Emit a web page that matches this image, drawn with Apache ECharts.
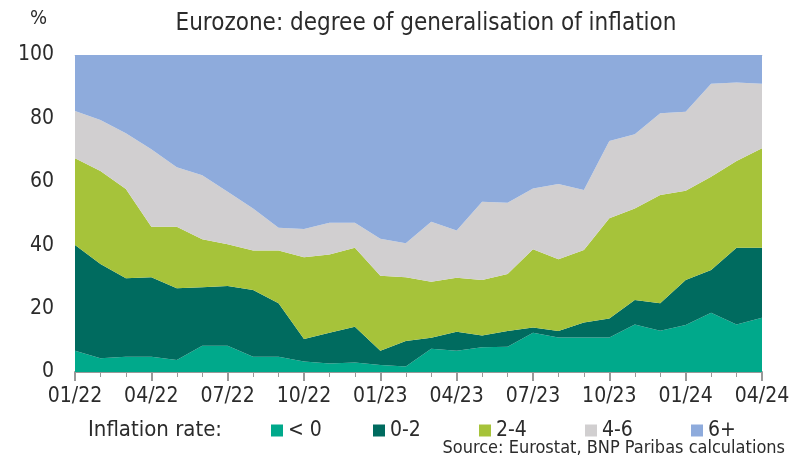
<!DOCTYPE html>
<html>
<head>
<meta charset="utf-8">
<script src="https://cdn.jsdelivr.net/npm/echarts@6/dist/echarts.min.js"></script>
<style>
  html, body { margin: 0; padding: 0; background: #fff; }
  #chart { width: 797px; height: 467px; }
</style>
</head>
<body>
<div id="chart"></div>
<script>
// months 01/22 .. 04/24
var months = ['01/22','02/22','03/22','04/22','05/22','06/22','07/22','08/22','09/22','10/22','11/22','12/22',
              '01/23','02/23','03/23','04/23','05/23','06/23','07/23','08/23','09/23','10/23','11/23','12/23',
              '01/24','02/24','03/24','04/24'];

// share of HICP items by inflation rate bucket (%)
var below0 = [6.7, 4.3, 4.8, 4.8, 3.8, 8.3, 8.3, 4.8, 4.8, 3.3, 2.7, 3.0, 2.2, 1.7, 7.3, 6.7, 7.8, 8.0, 12.4, 10.9, 10.9, 10.9, 15.0, 13.0, 14.8, 18.7, 15.0, 17.1];
var from0to2 = [33.4, 29.8, 24.8, 25.1, 22.6, 18.4, 18.8, 21.1, 16.9, 7.1, 9.7, 11.3, 4.5, 8.1, 3.5, 6.0, 3.7, 4.9, 1.6, 2.0, 4.7, 6.0, 7.7, 8.7, 14.2, 13.5, 24.2, 22.1];
var from2to4 = [27.3, 29.3, 28.1, 15.9, 19.4, 15.2, 13.2, 12.4, 16.6, 25.8, 24.7, 24.9, 23.7, 20.1, 17.7, 17.0, 17.5, 18.0, 24.7, 22.7, 22.9, 31.6, 28.9, 34.1, 28.2, 29.4, 27.4, 31.4];
var from4to6 = [14.9, 16.1, 17.6, 24.5, 18.8, 20.2, 16.6, 13.3, 7.2, 8.9, 10.0, 7.9, 11.6, 10.7, 18.9, 14.9, 24.7, 22.5, 19.2, 23.7, 18.9, 24.4, 23.4, 25.8, 24.9, 29.3, 24.7, 20.3];
var above6 = [17.7, 20.5, 24.7, 29.7, 35.4, 37.9, 43.1, 48.4, 54.5, 54.9, 52.9, 52.9, 58.0, 59.4, 52.6, 55.4, 46.3, 46.6, 42.1, 40.7, 42.6, 27.1, 25.0, 18.4, 17.9, 9.1, 8.7, 9.1];

var seriesNames = ['< 0', '0-2', '2-4', '4-6', '6+'];
var seriesData = [below0, from0to2, from2to4, from4to6, above6];
var colors = ['#00a98b', '#006b5f', '#a6c33a', '#d1cfd0', '#8eabdc'];
var legendLeft = [271, 373, 479, 585, 691];

var font = '"DejaVu Sans Condensed", sans-serif';
var txt = '#2b2b2b';

var chart = echarts.init(document.getElementById('chart'));

var series = seriesNames.map(function (name, i) {
    return {
        name: name,
        type: 'line',
        stack: 'total',
        data: seriesData[i],
        symbol: 'none',
        lineStyle: { width: 0 },
        areaStyle: { color: colors[i], opacity: 1 },
        itemStyle: { color: colors[i] },
        silent: true
    };
});

// one legend per item so the spacing is fixed like the original
var legends = seriesNames.map(function (name, i) {
    return {
        data: [name],
        left: legendLeft[i],
        top: 420,
        padding: 0,
        icon: 'rect',
        itemWidth: 12,
        itemHeight: 12,
        itemGap: 0,
        selectedMode: false,
        textStyle: { fontFamily: font, fontSize: 21, color: txt }
    };
});

var option = {
    animation: false,
    textStyle: { fontFamily: font },
    title: {
        text: 'Eurozone: degree of generalisation of inflation',
        left: 421,
        textAlign: 'center',
        top: 7,
        textStyle: { fontFamily: font, fontSize: 24, fontWeight: 'normal', color: txt }
    },
    grid: { left: 75, right: 35, top: 55, bottom: 95 },
    legend: legends,
    graphic: [
        { type: 'text', left: 88, top: 419, style: { text: 'Inflation rate:', font: '22px ' + font, fill: txt } },
        { type: 'text', right: 12, top: 439, style: { text: 'Source: Eurostat, BNP Paribas calculations', font: '18px ' + font, fill: txt } },
        { type: 'text', left: 30, top: 9, style: { text: '%', font: '20px ' + font, fill: txt } }
    ],
    xAxis: [{
        type: 'category',
        data: months,
        boundaryGap: false,
        axisLine: { lineStyle: { color: '#999', width: 2 } },
        axisTick: { interval: 0, length: 5, lineStyle: { color: '#999' } },
        axisLabel: { interval: 2, fontSize: 21, color: txt, margin: 14, fontFamily: font }
    }, {
        type: 'category',
        data: months,
        boundaryGap: false,
        position: 'bottom',
        axisLine: { show: false },
        axisTick: { interval: 2, length: 9, lineStyle: { color: '#999', width: 2 } },
        axisLabel: { show: false }
    }, {
        type: 'category',
        data: months,
        boundaryGap: false,
        position: 'top',
        axisLine: { lineStyle: { color: '#d4d4d4', width: 1 } },
        axisTick: { show: false },
        axisLabel: { show: false }
    }],
    yAxis: {
        type: 'value',
        min: 0,
        max: 100,
        interval: 20,
        axisLine: { show: false },
        axisTick: { show: false },
        splitLine: { show: false },
        axisLabel: { fontSize: 21, color: txt, margin: 21, fontFamily: font }
    },
    series: series
};

chart.setOption(option);
</script>
</body>
</html>
